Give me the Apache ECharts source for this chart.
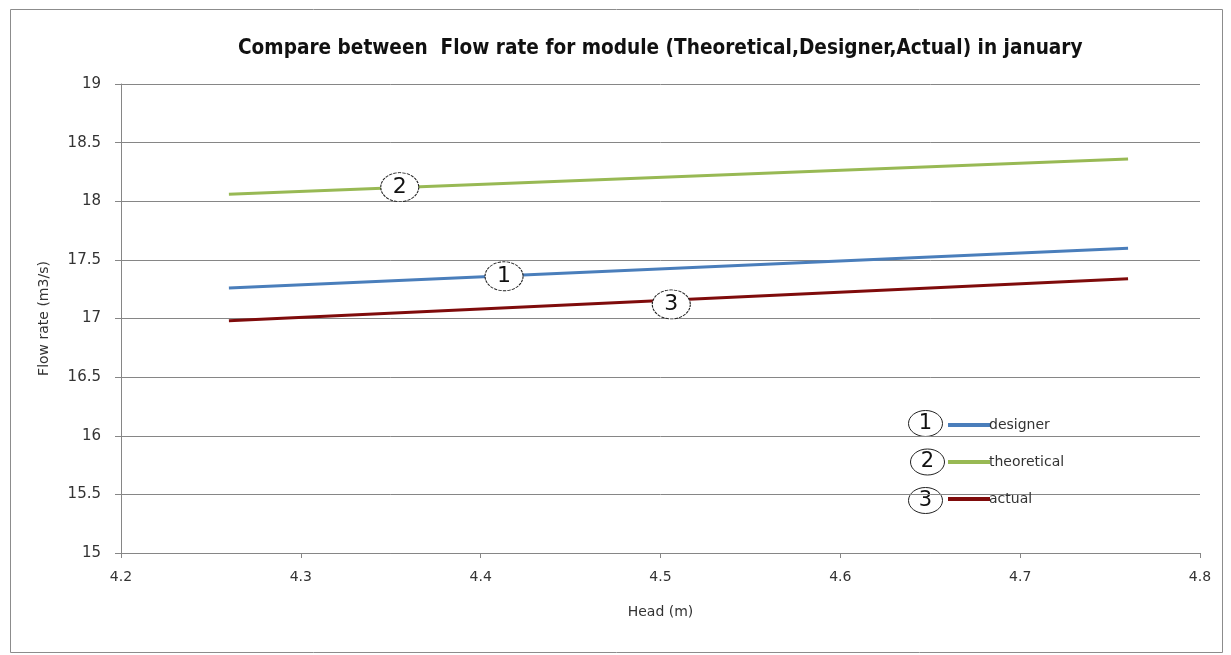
<!DOCTYPE html>
<html><head><meta charset="utf-8">
<script src="https://cdn.jsdelivr.net/npm/echarts@6/dist/echarts.min.js"></script>
<style>html,body{margin:0;padding:0;background:#fff}#c{width:1231px;height:655px}</style>
</head><body><div id="c"></div>
<script>
const headValues = [4.26, 4.76];
const designer = [17.26, 17.60];
const theoretical = [18.06, 18.36];
const actual = [16.98, 17.34];
const seriesNames = ['designer', 'theoretical', 'actual'];
const seriesMarks = ['1', '2', '3'];
const markPos = [[4.413, 17.36], [4.355, 18.12], [4.506, 17.12]];
const xTicks = [4.2, 4.3, 4.4, 4.5, 4.6, 4.7, 4.8];
const yTicks = [15, 15.5, 16, 16.5, 17, 17.5, 18, 18.5, 19];
const colors = ['#4a7ebb', '#98b954', '#7f0b0b'];

const chart = echarts.init(document.getElementById('c'));
const dataSets = [designer, theoretical, actual];
const series = dataSets.map((d, i) => ({
  name: seriesNames[i], type: 'line', symbol: 'none', z: 3,
  data: headValues.map((h, k) => [h, d[k]]),
  lineStyle: { color: colors[i], width: 3 },
  itemStyle: { color: colors[i] },
  markPoint: {
    symbol: 'circle', symbolSize: [38, 29],
    itemStyle: { color: '#fff', borderColor: '#222', borderWidth: 1, borderType: [3, 1] },
    label: { show: true, color: '#111', fontSize: 22, fontFamily: 'DejaVu Sans', formatter: seriesMarks[i] },
    data: [{ coord: markPos[i] }]
  }
}));
const legendCircles = seriesMarks.map((m, i) => ({
  type: 'group', left: 908 + (i === 1 ? 2 : 0), top: 410 + i * 38.5,
  children: [
    { type: 'ellipse', shape: { cx: 18, cy: 14, rx: 17, ry: 13 }, style: { fill: '#fff', stroke: '#222', lineWidth: 1 } },
    { type: 'text', style: { text: m, x: 18, y: 14, textAlign: 'center', textVerticalAlign: 'middle', fontSize: 21, fontFamily: 'DejaVu Sans', fill: '#111' } }
  ]
}));
chart.setOption({
  animation: false,
  backgroundColor: '#fff',
  title: {
    text: 'Compare between  Flow rate for module (Theoretical,Designer,Actual) in january',
    left: 233, top: 33,
    textStyle: { fontSize: 20.6, fontWeight: 'bold', color: '#111', fontFamily: '"DejaVu Sans Condensed", "DejaVu Sans", sans-serif' }
  },
  grid: { left: 121, right: 31, top: 84, bottom: 102 },
  legend: {
    orient: 'vertical', left: 943, top: 413, itemGap: 23,
    itemWidth: 42, itemHeight: 4, icon: 'rect',
    data: seriesNames,
    textStyle: { fontSize: 14, color: '#333', fontFamily: '"DejaVu Sans", sans-serif', padding: [0, 0, 0, -6] }
  },
  xAxis: {
    type: 'value', min: 4.2, max: 4.8, interval: 0.1,
    name: 'Head (m)', nameLocation: 'middle', nameGap: 52,
    nameTextStyle: { fontSize: 14, color: '#333', fontFamily: '"DejaVu Sans", sans-serif' },
    axisLine: { show: true, lineStyle: { color: '#868686' } },
    axisTick: { show: true, length: 5, lineStyle: { color: '#868686' } },
    axisLabel: { fontSize: 14, color: '#333', margin: 17, fontFamily: '"DejaVu Sans", sans-serif',
      formatter: v => { const t = xTicks.find(x => Math.abs(x - v) < 1e-6); return t === undefined ? '' : String(t); } },
    splitLine: { show: false }
  },
  yAxis: {
    type: 'value', min: 15, max: 19, interval: 0.5,
    name: 'Flow rate (m3/s)', nameLocation: 'middle', nameGap: 70, nameRotate: 90,
    nameTextStyle: { fontSize: 14, color: '#333', fontFamily: '"DejaVu Sans", sans-serif' },
    axisLine: { show: true, lineStyle: { color: '#868686' } },
    axisTick: { show: true, length: 6, lineStyle: { color: '#868686' } },
    axisLabel: { fontSize: 15, color: '#333', margin: 20, fontFamily: '"DejaVu Sans", sans-serif',
      formatter: v => { const t = yTicks.find(y => Math.abs(y - v) < 1e-6); return t === undefined ? '' : String(t); } },
    splitLine: { show: true, lineStyle: { color: '#868686', width: 1 } }
  },
  graphic: [
    { type: 'rect', left: 8, top: 7, shape: { width: 1212, height: 643 }, style: { fill: 'none', stroke: '#8c8c8c', lineWidth: 1 }, silent: true }
  ].concat(legendCircles),
  series: series
});
</script></body></html>
